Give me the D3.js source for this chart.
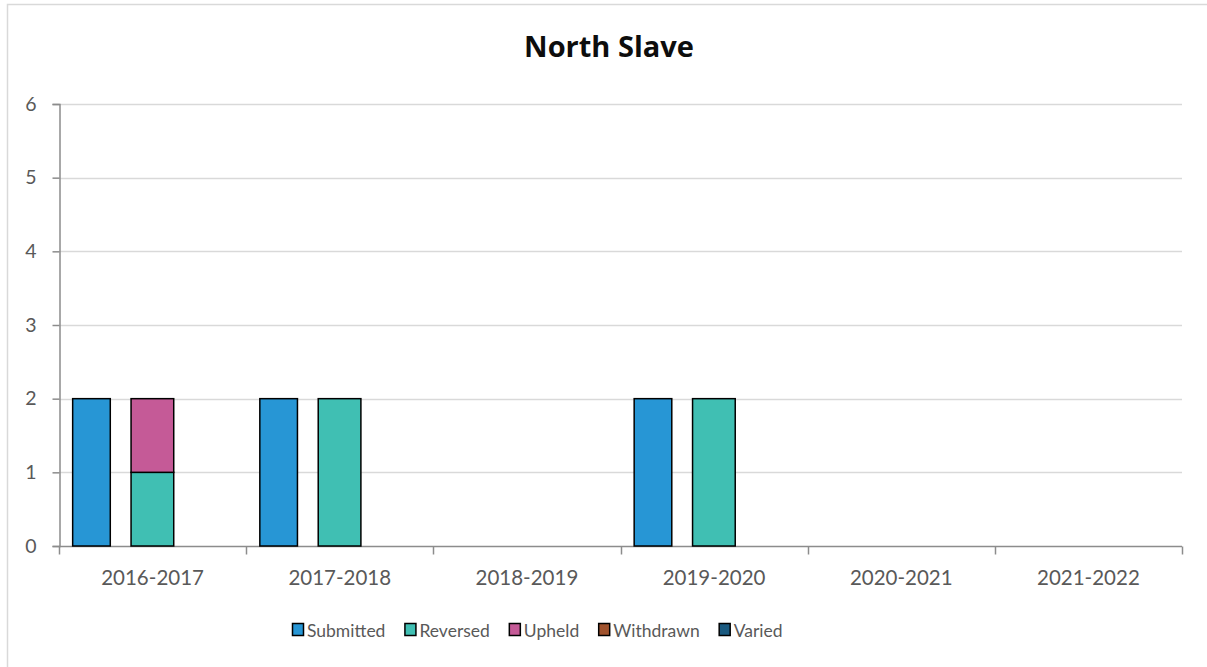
<!DOCTYPE html>
<html>
<head>
<meta charset="utf-8">
<script src="https://cdn.jsdelivr.net/npm/d3@7"></script>
<style>
  html, body { margin: 0; padding: 0; background: #fff; }
  svg { display: block; }
  text { font-family: Lato, "Open Sans", sans-serif; }
</style>
</head>
<body>
<svg id="chart" width="1207" height="667"></svg>
<script>
// Appeals per fiscal year, North Slave region
const years = ["2016-2017", "2017-2018", "2018-2019", "2019-2020", "2020-2021", "2021-2022"];
const submitted = [2, 2, 0, 2, 0, 0];
const reversed  = [1, 2, 0, 2, 0, 0];
const upheld    = [1, 0, 0, 0, 0, 0];
const withdrawn = [0, 0, 0, 0, 0, 0];
const varied    = [0, 0, 0, 0, 0, 0];
const yTicks = [0, 1, 2, 3, 4, 5, 6];
const seriesNames = ["Submitted", "Reversed", "Upheld", "Withdrawn", "Varied"];
const colors = {
  Submitted: "#2796D5",
  Reversed: "#40BFB3",
  Upheld: "#C55A97",
  Withdrawn: "#A0522D",
  Varied: "#1A5A80"
};

const svg = d3.select("#chart");

// outer chart frame
svg.append("rect")
  .attr("x", 7.5).attr("y", 4.5)
  .attr("width", 1240).attr("height", 700)
  .attr("fill", "#fff").attr("stroke", "#D9D9D9").attr("stroke-width", 1.5);

const plot = { left: 59, right: 1182, top: 104, bottom: 546 };

const x = d3.scaleBand().domain(years).range([plot.left, plot.right]).padding(0);
const y = d3.scaleLinear().domain([0, 6]).range([plot.bottom, plot.top]);

// position of the two columns inside each year slot (fraction of slot)
const slot = d3.scaleOrdinal().domain(["submitted", "outcome"]).range([0.073, 0.385]);
const slotWidth = d3.scaleOrdinal().domain(["submitted", "outcome"]).range([0.201, 0.228]);

// gridlines
svg.append("g").selectAll("line")
  .data(yTicks.filter(d => d > 0))
  .join("line")
  .attr("x1", plot.left).attr("x2", plot.right)
  .attr("y1", d => Math.round(y(d)) + 0.5).attr("y2", d => Math.round(y(d)) + 0.5)
  .attr("stroke", "#D9D9D9").attr("stroke-width", 1.5);

// y axis
const yAxis = svg.append("g")
  .attr("transform", `translate(${plot.left + 0.5},0)`)
  .call(d3.axisLeft(y).tickValues(yTicks).tickSize(7).tickPadding(16).tickFormat(d3.format("d")));
yAxis.select(".domain").attr("stroke", "#8C8C8C").attr("stroke-width", 1.5);
yAxis.selectAll(".tick line").attr("stroke", "#8C8C8C").attr("stroke-width", 1.5);
yAxis.selectAll(".tick text").attr("fill", "#595959").style("font-size", "19.5px");

// x axis with ticks at slot boundaries
const xg = svg.append("g").attr("transform", `translate(0,${plot.bottom + 0.5})`);
xg.append("line")
  .attr("x1", plot.left).attr("x2", plot.right)
  .attr("stroke", "#8C8C8C").attr("stroke-width", 1.5);
const bounds = years.map(d => x(d)).concat([x(years[years.length - 1]) + x.bandwidth()]);
xg.selectAll("line.tk").data(bounds).join("line")
  .attr("class", "tk")
  .attr("x1", d => Math.round(d) + 0.5).attr("x2", d => Math.round(d) + 0.5)
  .attr("y1", 0).attr("y2", 8)
  .attr("stroke", "#8C8C8C").attr("stroke-width", 1.5);
xg.selectAll("text").data(years).join("text")
  .attr("x", d => x(d) + x.bandwidth() / 2)
  .attr("y", 38)
  .attr("text-anchor", "middle")
  .attr("fill", "#595959")
  .style("font-size", "20.5px")
  .text(d => d);

// stacked outcome columns
const rows = years.map((yr, i) => ({
  year: yr, Reversed: reversed[i], Upheld: upheld[i], Withdrawn: withdrawn[i], Varied: varied[i]
}));
const stack = d3.stack().keys(["Reversed", "Upheld", "Withdrawn", "Varied"])(rows);

const bars = svg.append("g").attr("stroke", "#000").attr("stroke-width", 1.5);

bars.selectAll("rect.sub")
  .data(years.map((yr, i) => ({ year: yr, v: submitted[i] })).filter(d => d.v > 0))
  .join("rect")
  .attr("class", "sub")
  .attr("x", d => x(d.year) + x.bandwidth() * slot("submitted"))
  .attr("width", x.bandwidth() * slotWidth("submitted"))
  .attr("y", d => y(d.v))
  .attr("height", d => y(0) - y(d.v))
  .attr("fill", colors.Submitted);

stack.forEach(layer => {
  bars.selectAll(null)
    .data(layer.filter(d => d[1] - d[0] > 0))
    .join("rect")
    .attr("x", d => x(d.data.year) + x.bandwidth() * slot("outcome"))
    .attr("width", x.bandwidth() * slotWidth("outcome"))
    .attr("y", d => y(d[1]))
    .attr("height", d => y(d[0]) - y(d[1]))
    .attr("fill", colors[layer.key]);
});

// title
svg.append("text")
  .attr("x", 609).attr("y", 57)
  .attr("text-anchor", "middle")
  .attr("fill", "#0D0D0D")
  .style("font-family", "'Open Sans', Lato, sans-serif")
  .style("font-size", "29px").style("font-weight", "bold")
  .text("North Slave");

// legend
const legend = svg.append("g").attr("transform", "translate(292,630)");
let lx = 0;
seriesNames.forEach(name => {
  const g = legend.append("g").attr("transform", `translate(${lx},0)`);
  g.append("rect")
    .attr("x", 0.5).attr("y", -6.5).attr("width", 11).attr("height", 12)
    .attr("fill", colors[name]).attr("stroke", "#000").attr("stroke-width", 1.5);
  const t = g.append("text")
    .attr("x", 15).attr("y", 6.5)
    .attr("fill", "#595959")
    .style("font-size", "17.5px")
    .text(name);
  lx += 15 + t.node().getComputedTextLength() + 19;
});
</script>
</body>
</html>
